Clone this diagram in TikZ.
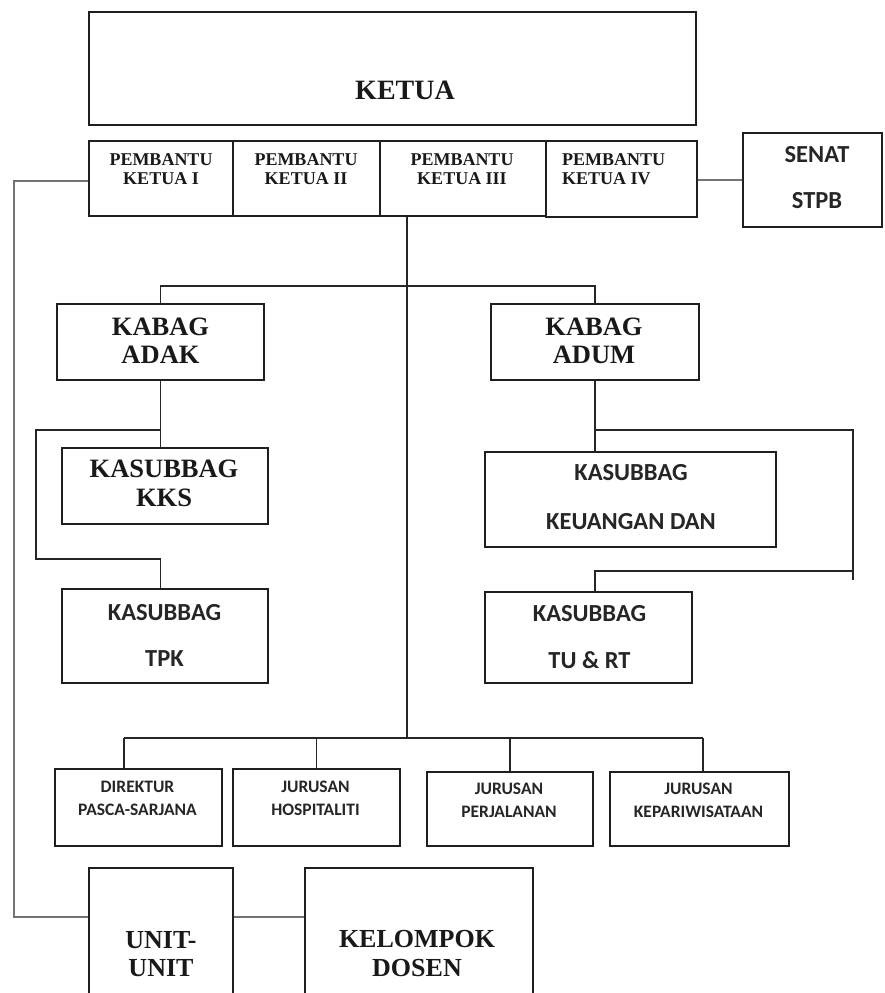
\documentclass[tikz,border=0pt]{standalone}
\usepackage{fontspec}
\setmainfont{Liberation Serif}
\newfontfamily\calib{Carlito}
\usetikzlibrary{fit}
\tikzset{
  boxst/.style={draw=black!88, line width=1.7pt, inner sep=0pt, fill=none},
  ln/.style={draw=black!85, line width=1.6pt},
  gln/.style={draw=black!55, line width=1.6pt},
  sertxt/.style={font=\bfseries, align=center, inner sep=0pt, text=black!90},
  santxt/.style={font=\calib\bfseries, align=center, inner sep=0pt, text=black!85}
}
\newcommand{\fs}[2]{\fontsize{#1}{#2}\selectfont}
\begin{document}
\begin{tikzpicture}[x=1pt,y=-1pt]
\useasboundingbox (0,0) rectangle (884,993);
\clip (0,0) rectangle (884,993);
\fill[white] (0,0) rectangle (884,993);

% boxes
\node[boxst, fit={(89,12) (696,125)}] (ketua) {};
\node[boxst, fit={(89,141) (233,216)}] (pk1) {};
\node[boxst, fit={(233,141) (380,216)}] (pk2) {};
\node[boxst, fit={(380,141) (546,216)}] (pk3) {};
\node[boxst, fit={(546,141) (697,217)}] (pk4) {};
\node[boxst, fit={(743,133) (882,227)}] (senat) {};
\node[boxst, fit={(57,304) (264,380)}] (adak) {};
\node[boxst, fit={(491,304) (699,380)}] (adum) {};
\node[boxst, fit={(62,448) (268,524)}] (kks) {};
\node[boxst, fit={(62,589) (268,683)}] (tpk) {};
\node[boxst, fit={(485,452) (776,547)}] (keu) {};
\node[boxst, fit={(485,592) (692,683)}] (tu) {};
\node[boxst, fit={(55,769) (222,846)}] (dir) {};
\node[boxst, fit={(233,769) (400,846)}] (hosp) {};
\node[boxst, fit={(427,772) (593,846)}] (perj) {};
\node[boxst, fit={(610,772) (789,846)}] (kep) {};
\node[boxst, fit={(89,868) (233,1010)}] (unit) {};
\node[boxst, fit={(305,868) (533,1010)}] (kel) {};

% texts
\node[sertxt, font=\bfseries\fs{28}{30}] (tketua) at (405,90) {KETUA};
\node[sertxt, font=\bfseries\fs{18}{19}] (tpk1) at (161,169.5) {PEMBANTU\\KETUA I};
\node[sertxt, font=\bfseries\fs{18}{19}] (tpk2) at (306,169.5) {PEMBANTU\\KETUA II};
\node[sertxt, font=\bfseries\fs{18}{19}] (tpk3) at (462,169.5) {PEMBANTU\\KETUA III};
\node[sertxt, font=\bfseries\fs{18}{19}, align=left, anchor=west] (tpk4) at (562,169.5) {PEMBANTU\\KETUA IV};
\node[santxt, font=\calib\bfseries\fs{24.5}{46}] (tsenat) at (817,178) {SENAT\\STPB};
\node[sertxt, font=\bfseries\fs{26.5}{28}] (tadak) at (160.5,341) {KABAG\\ADAK};
\node[sertxt, font=\bfseries\fs{26.5}{28}] (tadum) at (594,341) {KABAG\\ADUM};
\node[sertxt, font=\bfseries\fs{26.5}{29}] (tkks) at (164,483.5) {KASUBBAG\\KKS};
\node[santxt, font=\calib\bfseries\fs{24.5}{46}] (ttpk) at (164.5,635) {KASUBBAG\\TPK};
\node[santxt, font=\calib\bfseries\fs{24.5}{49}] (tkeu) at (631,497.5) {KASUBBAG\\KEUANGAN DAN};
\node[santxt, font=\calib\bfseries\fs{24.5}{47}] (ttu) at (589.5,637.5) {KASUBBAG\\TU \& RT};
\node[santxt, font=\calib\bfseries\fs{17.5}{23}] (tdir) at (137.5,798.5) {DIREKTUR\\PASCA-SARJANA};
\node[santxt, font=\calib\bfseries\fs{17.5}{23}] (thosp) at (315.5,798.5) {JURUSAN\\HOSPITALITI};
\node[santxt, font=\calib\bfseries\fs{17.5}{23}] (tperj) at (509,800.5) {JURUSAN\\PERJALANAN};
\node[santxt, font=\calib\bfseries\fs{17.5}{23}] (tkep) at (698.5,800.5) {JURUSAN\\KEPARIWISATAAN};
\node[sertxt, font=\bfseries\fs{26}{28}] (tunit) at (161,954) {UNIT-\\UNIT};
\node[sertxt, font=\bfseries\fs{26}{29}] (tkel) at (417,953.5) {KELOMPOK\\DOSEN};

% coordinates
\coordinate (busc) at (407,738);
\coordinate (busL) at (124,738);
\coordinate (busR) at (703,738);
\coordinate (kbar) at (407,286);
\coordinate (lbrTop) at (36,430);
\coordinate (lbrBot) at (36,559);
\coordinate (rbrTop) at (853,430);
\coordinate (rbrMid) at (853,571);
\coordinate (rbrBot) at (853,580);
\coordinate (ltTop) at (14,181);
\coordinate (ltBot) at (14,917);

% connectors
\draw[ln] (pk3.south -| busc) -- (busc);
\draw[ln] (adak.north) -- (adak.north |- kbar) -| (adum.north);
\draw[ln] (adak.south) -- (adak.south |- kks.north);
\draw[ln] (adak.south |- lbrTop) -- (lbrTop) -- (lbrBot) -- (adak.south |- lbrBot) -- (adak.south |- tpk.north);
\draw[ln] (adum.south) -- (adum.south |- keu.north);
\draw[ln] (adum.south |- rbrTop) -- (rbrTop) -- (rbrBot);
\draw[ln] (rbrMid) -- (adum.south |- rbrMid) -- (adum.south |- tu.north);
\draw[ln] (busL) -- (busR);
\draw[ln] (busL) -- (busL |- dir.north);
\draw[ln] (hosp.north |- busL) -- (hosp.north);
\draw[ln] (perj.north |- busL) -- (perj.north);
\draw[ln] (busR) -- (busR |- kep.north);
\draw[gln] (pk1.west |- ltTop) -- (ltTop) -- (ltBot) -- (unit.west |- ltBot);
\draw[gln] (pk4.east |- senat.west) -- (senat.west);
\draw[gln] (unit.east |- ltBot) -- (kel.west |- ltBot);
\end{tikzpicture}
\end{document}
